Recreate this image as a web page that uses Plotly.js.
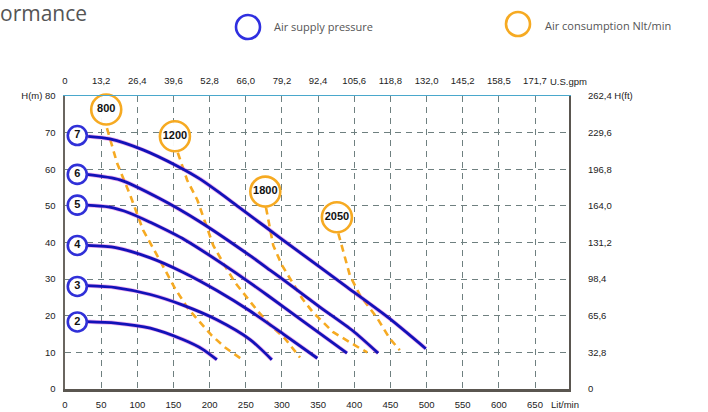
<!DOCTYPE html>
<html>
<head>
<meta charset="utf-8">
<script src="https://cdn.plot.ly/plotly-3.0.1.min.js"></script>
<style>html,body{margin:0;padding:0;background:#fff;}#chart{width:708px;height:412px;}</style>
</head>
<body>
<div id="chart"></div>
<script>
// ---------- data ----------
const flowTicks  = [0, 50, 100, 150, 200, 250, 300, 350, 400, 450, 500, 550, 600, 650];
const litLabels  = ["0","50","100","150","200","250","300","350","400","450","500","550","600","650"];
const gpmLabels  = ["0","13,2","26,4","39,6","52,8","66,0","79,2","92,4","105,6","118,8","132,0","145,2","158,5","171,7"];
const headTicks  = [0, 10, 20, 30, 40, 50, 60, 70, 80];
const mLabels    = ["0","10","20","30","40","50","60","70","H(m) 80"];
const ftLabels   = ["0","32,8","65,6","98,4","131,2","164,0","196,8","229,6","262,4 H(ft)"];

// air supply pressure curves (bar): flow Lit/min -> head m
const curve2Q = [30, 70, 118, 163, 190, 210];
const curve2H = [18.4, 18.0, 16.6, 13.5, 10.9, 8.0];
const curve3Q = [30, 70, 118, 163, 210, 256, 286];
const curve3H = [28.2, 27.7, 25.8, 22.9, 18.9, 13.5, 8.0];
const curve4Q = [30, 70, 118, 163, 210, 256, 302, 349];
const curve4H = [39.2, 38.6, 35.8, 31.9, 26.9, 21.3, 15.0, 8.4];
const curve5Q = [30, 60, 90, 118, 166, 231, 280, 330, 390];
const curve5H = [50.2, 49.7, 48.0, 45.5, 40.7, 32.4, 25.6, 18.4, 9.8];
const curve6Q = [30, 76, 131, 187, 256, 284, 311, 353, 398, 433];
const curve6H = [58.6, 57.1, 52.0, 45.6, 36.4, 32.4, 28.5, 22.3, 15.9, 9.8];
const curve7Q = [32, 62, 108, 155, 187, 215, 240, 277, 302, 353, 390, 449, 499];
const curve7H = [69.0, 68.3, 65.3, 60.9, 57.3, 53.4, 49.7, 44.3, 40.6, 33.2, 27.8, 19.2, 11.0];

const pressLabels = ["2","3","4","5","6","7"];
const pressLabelQ = [17, 17, 17, 17, 17, 17];
const pressLabelH = [18.3, 28.0, 39.2, 50.2, 58.6, 69.2];

// air consumption lines (Nlt/min)
const air800Q  = [58, 72, 90, 108, 131, 152, 170, 184, 203, 221, 246];
const air800H  = [71.2, 61.7, 53.0, 43.4, 35.2, 27.5, 22.0, 18.8, 14.6, 11.4, 7.9];
const air1200Q = [156, 169, 183, 196, 205, 220, 235, 266, 284, 304, 325];
const air1200H = [64.5, 57.0, 51.6, 44.2, 39.2, 34.0, 29.1, 21.4, 17.4, 13.8, 8.6];
const air1800Q = [278, 288, 300, 314, 328, 343, 371, 408, 418];
const air1800H = [49.5, 39.2, 33.8, 29.1, 24.7, 20.9, 15.5, 11.1, 10.0];
const air2050Q = [378, 394, 408, 432, 449, 463];
const air2050H = [42.5, 31.0, 25.6, 19.3, 13.8, 10.6];

const airLabels = ["800","1200","1800","2050"];
const airLabelQ = [57, 152, 277, 376];
const airLabelH = [76.3, 69.0, 53.9, 46.9];

// ---------- styles ----------
const BLUE = "#1212b8", MAGENTA = "rgba(215,70,215,0.45)", ORANGE = "#f6aa22";
const tickFont = {family: "'Liberation Sans Narrow','Arial Narrow','Liberation Sans',Arial,sans-serif", size: 9.5, color: "#222"};

const traces = [];
const curves = [[curve2Q,curve2H],[curve3Q,curve3H],[curve4Q,curve4H],[curve5Q,curve5H],[curve6Q,curve6H],[curve7Q,curve7H]];
const airs = [[air800Q,air800H],[air1200Q,air1200H],[air1800Q,air1800H],[air2050Q,air2050H]];

airs.forEach(([q,h]) => traces.push({
  x: q, y: h, type: "scatter", mode: "lines", hoverinfo: "skip", showlegend: false,
  line: {color: ORANGE, width: 2.6, dash: "7px,5px", shape: "linear"}
}));
curves.forEach(([q,h]) => {
  traces.push({x: q, y: h, type: "scatter", mode: "lines", hoverinfo: "skip", showlegend: false,
    line: {color: MAGENTA, width: 4.2, shape: "spline", smoothing: 0.7}});
  traces.push({x: q, y: h, type: "scatter", mode: "lines", hoverinfo: "skip", showlegend: false,
    line: {color: BLUE, width: 2.8, shape: "spline", smoothing: 0.7}});
});
traces.push({
  x: airLabelQ, y: airLabelH, text: airLabels, type: "scatter", mode: "markers+text",
  textposition: "middle center", cliponaxis: false, hoverinfo: "skip", showlegend: false,
  marker: {symbol: "circle", size: 30, color: "rgba(255,255,255,0.95)", line: {color: ORANGE, width: 2.6}},
  textfont: {family: "'Liberation Sans',Arial,sans-serif", size: 11, color: "#111", weight: "bold"}
});
traces.push({
  x: pressLabelQ, y: pressLabelH, text: pressLabels, type: "scatter", mode: "markers+text",
  textposition: "middle center", cliponaxis: false, hoverinfo: "skip", showlegend: false,
  marker: {symbol: "circle", size: 19, color: "#fff", line: {color: "#3030d8", width: 2.6}},
  textfont: {family: "'Liberation Sans',Arial,sans-serif", size: 11, color: "#111", weight: "bold"}
});
traces.push({x: [null], y: [null], xaxis: "x2", yaxis: "y2", type: "scatter", mode: "lines",
  hoverinfo: "skip", showlegend: false});

const gridStyle = {showgrid: true, gridcolor: "#6f8080", gridwidth: 1, griddash: "6px,5px", zeroline: false};

const layout = {
  width: 708, height: 412,
  margin: {l: 65, r: 139, t: 96, b: 23, pad: 0},
  paper_bgcolor: "#fff", plot_bgcolor: "#fff",
  showlegend: false,
  title: {text: "ormance", xref: "container", yref: "container", x: 0, xanchor: "left",
          y: 0.968, yanchor: "middle", font: {family: "'Open Sans',sans-serif", size: 21, color: "#555"}},
  xaxis: Object.assign({
    range: [0, 697], tickmode: "array", tickvals: flowTicks, ticktext: litLabels,
    showline: true, linecolor: "#5a5650", linewidth: 2.5,
    ticks: "outside", ticklen: 5, tickcolor: "rgba(0,0,0,0)", tickfont: tickFont, fixedrange: true
  }, gridStyle),
  xaxis2: {
    overlaying: "x", side: "top", range: [0, 697], tickmode: "array", tickvals: flowTicks, ticktext: gpmLabels,
    showgrid: false, zeroline: false, showline: true, linecolor: "#4aa8cc", linewidth: 1.5,
    ticks: "outside", ticklen: 7, tickcolor: "rgba(0,0,0,0)", tickfont: tickFont, fixedrange: true
  },
  yaxis: Object.assign({
    range: [0, 80], tickmode: "array", tickvals: headTicks, ticktext: mLabels,
    showline: true, linecolor: "#6a6660", linewidth: 2.5,
    ticks: "outside", ticklen: 5, tickcolor: "rgba(0,0,0,0)", tickfont: tickFont, fixedrange: true
  }, gridStyle),
  yaxis2: {
    overlaying: "y", side: "right", range: [0, 80], tickmode: "array", tickvals: headTicks, ticktext: ftLabels,
    showgrid: false, zeroline: false, showline: true, linecolor: "#5a5650", linewidth: 2,
    ticks: "outside", ticklen: 15, tickcolor: "rgba(0,0,0,0)", tickfont: tickFont, fixedrange: true
  },
  annotations: [
    {text: "Lit/min", xref: "x", x: 650, yref: "paper", y: 0, xanchor: "left", yanchor: "middle",
     xshift: 14, yshift: -15, showarrow: false, font: tickFont},
    {text: "U.S.gpm", xref: "x", x: 650, yref: "paper", y: 1, xanchor: "left", yanchor: "middle",
     xshift: 13, yshift: 15, showarrow: false, font: tickFont},
    {text: "Air supply pressure", xref: "paper", x: 0.4107, yref: "paper", y: 1.2355, xanchor: "left", yanchor: "middle",
     showarrow: false, font: {family: "'Open Sans',sans-serif", size: 11, color: "#555"}},
    {text: "Air consumption Nlt/min", xref: "paper", x: 0.9484, yref: "paper", y: 1.2423, xanchor: "left", yanchor: "middle",
     showarrow: false, font: {family: "'Open Sans',sans-serif", size: 11, color: "#555"}}
  ],
  shapes: [
    {type: "circle", xref: "paper", yref: "paper", xsizemode: "pixel", ysizemode: "pixel",
     xanchor: 0.3631, yanchor: 1.2355, x0: -12, x1: 12, y0: -12, y1: 12,
     line: {color: "#2f2fe0", width: 2.6}, fillcolor: "rgba(0,0,0,0)"},
    {type: "circle", xref: "paper", yref: "paper", xsizemode: "pixel", ysizemode: "pixel",
     xanchor: 0.8988, yanchor: 1.2457, x0: -12, x1: 12, y0: -12, y1: 12,
     line: {color: ORANGE, width: 2.6}, fillcolor: "rgba(0,0,0,0)"}
  ]
};

Plotly.newPlot("chart", traces, layout, {displayModeBar: false, staticPlot: true});
</script>
</body>
</html>
